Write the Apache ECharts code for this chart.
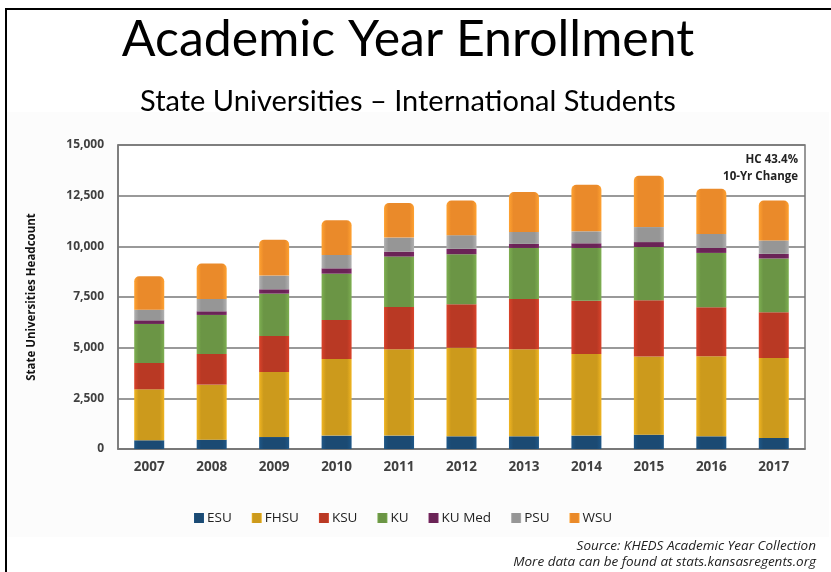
<!DOCTYPE html>
<html>
<head>
<meta charset="utf-8">
<script src="https://cdn.jsdelivr.net/npm/echarts@6/dist/echarts.min.js"></script>
<style>
  html, body { margin: 0; padding: 0; background: #ffffff; }
  #chart { width: 831px; height: 572px; }
</style>
</head>
<body>
<div id="chart"></div>
<script>
// academic years on the x axis
const years = ["2007", "2008", "2009", "2010", "2011", "2012", "2013", "2014", "2015", "2016", "2017"];

// headcount per school
const esu = [430, 460, 590, 660, 660, 625, 625, 660, 705, 625, 545];
const fhsu = [2515, 2715, 3210, 3780, 4260, 4375, 4295, 4030, 3865, 3950, 3950];
const ksu = [1300, 1515, 1775, 1925, 2090, 2140, 2485, 2630, 2765, 2420, 2255];
const ku = [1925, 1925, 2090, 2285, 2485, 2470, 2515, 2600, 2630, 2680, 2650];
const kuMed = [180, 180, 215, 265, 245, 265, 200, 230, 245, 245, 230];
const psu = [525, 610, 675, 660, 690, 675, 590, 590, 740, 690, 660];
const wsu = [1645, 1745, 1775, 1710, 1710, 1710, 1975, 2300, 2535, 2235, 1975];

const yTicks = [0, 2500, 5000, 7500, 10000, 12500, 15000];

const schools = [
  { name: "ESU", data: esu, color: "#1b4a73" },
  { name: "FHSU", data: fhsu, color: "#cc9a1c" },
  { name: "KSU", data: ksu, color: "#b93924" },
  { name: "KU", data: ku, color: "#6b9545" },
  { name: "KU Med", data: kuMed, color: "#6a2356" },
  { name: "PSU", data: psu, color: "#969696" },
  { name: "WSU", data: wsu, color: "#ea8a2a" }
];

const chart = echarts.init(document.getElementById("chart"));

// darker at the sides so the bars look a bit round, like the slide
function shade(c) {
  return new echarts.graphic.LinearGradient(0, 0, 1, 0, [
    { offset: 0, color: echarts.color.lift(c, -0.18) },
    { offset: 0.15, color: c },
    { offset: 0.85, color: c },
    { offset: 1, color: echarts.color.lift(c, -0.18) }
  ]);
}

const series = schools.map((s, i) => ({
  name: s.name,
  type: "bar",
  stack: "total",
  barWidth: 30,
  data: s.data,
  color: s.color,
  itemStyle: {
    color: shade(s.color),
    borderRadius: i === schools.length - 1 ? [5, 5, 0, 0] : 0
  }
}));

const option = {
  backgroundColor: "#ffffff",
  animation: false,
  textStyle: { fontFamily: "Open Sans" },
  graphic: [
    { type: "rect", left: 7, top: 112, shape: { width: 822, height: 425 }, style: { fill: "#fcfcfc" }, z: -10 },
    { type: "rect", left: 5, top: 8, shape: { width: 2, height: 564 }, style: { fill: "#000" } },
    { type: "rect", left: 5, top: 8, shape: { width: 826, height: 2 }, style: { fill: "#000" } },
    {
      type: "text", x: 798, y: 151,
      style: {
        text: "HC 43.4%\n10-Yr Change", align: "right", verticalAlign: "top",
        font: "bold 11.5px 'Open Sans'", fill: "#222", lineHeight: 17
      }
    },
    {
      type: "text", x: 816, y: 538,
      style: {
        text: "Source: KHEDS Academic Year Collection\nMore data can be found at stats.kansasregents.org",
        align: "right", verticalAlign: "top",
        font: "italic 13.5px 'Open Sans'", fill: "#222", lineHeight: 16
      }
    }
  ],
  title: [
    {
      text: "Academic Year Enrollment",
      left: 403, top: 10, textAlign: "center",
      textStyle: { fontFamily: "Lato", fontSize: 50, fontWeight: "normal", color: "#000" }
    },
    {
      text: "State Universities – International Students",
      left: 403, top: 82, textAlign: "center",
      textStyle: { fontFamily: "Lato", fontSize: 29, fontWeight: "normal", color: "#000" }
    }
  ],
  legend: {
    left: 189, top: 506,
    itemWidth: 10, itemHeight: 10, itemGap: 20,
    icon: "rect",
    textStyle: { fontFamily: "Open Sans", fontSize: 13.5, color: "#222", padding: [0, 0, 0, -2] },
    data: schools.map(s => s.name)
  },
  grid: {
    left: 118, right: 26, top: 145, bottom: 123,
    show: true, borderColor: "#777", borderWidth: 1.5, backgroundColor: "#ffffff"
  },
  xAxis: {
    type: "category",
    data: years,
    axisLine: { lineStyle: { color: "#777", width: 1.5 } },
    axisTick: { show: false },
    axisLabel: { margin: 11, fontFamily: "Open Sans", fontSize: 13.5, fontWeight: "bold", color: "#404040" }
  },
  yAxis: {
    type: "value",
    min: yTicks[0], max: yTicks[yTicks.length - 1], interval: 2500,
    name: "State Universities Headcount",
    nameLocation: "middle", nameGap: 80, nameRotate: 90,
    nameTextStyle: { fontFamily: "Open Sans", fontSize: 11.5, fontWeight: "bold", color: "#111" },
    axisLine: { show: true, lineStyle: { color: "#777", width: 1.5 } },
    axisTick: { show: false },
    axisLabel: {
      margin: 14, fontFamily: "Open Sans", fontSize: 12, fontWeight: "bold", color: "#404040",
      formatter: v => v.toLocaleString("en-US")
    },
    splitLine: { lineStyle: { color: "#777", width: 1.5 } }
  },
  series: series
};

chart.setOption(option);
</script>
</body>
</html>
